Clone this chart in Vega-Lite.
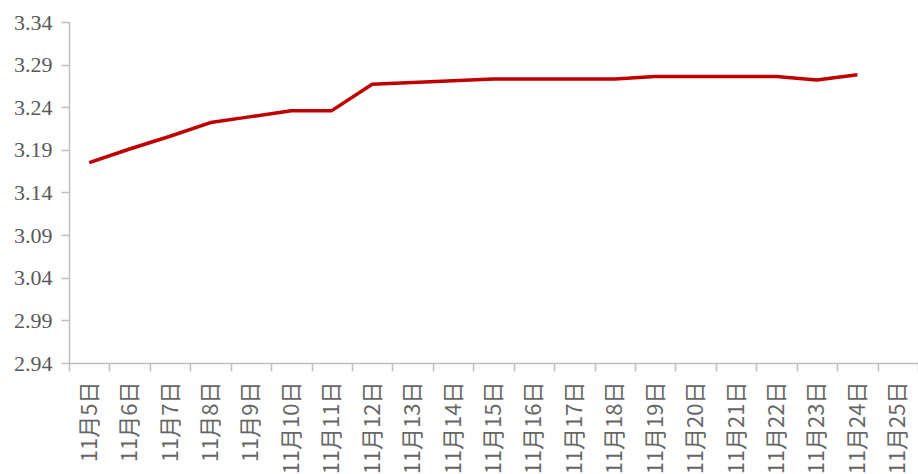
{
  "$schema": "https://vega.github.io/schema/vega-lite/v6.json",
  "autosize": "none",
  "width": 849,
  "height": 341,
  "padding": {"left": 69, "top": 22, "right": 0, "bottom": 111},
  "background": "white",
  "config": {"view": {"stroke": null}},
  "data": {"values": [
    {"date": "11月5日", "value": 3.175},
    {"date": "11月6日", "value": 3.191},
    {"date": "11月7日", "value": 3.206},
    {"date": "11月8日", "value": 3.222},
    {"date": "11月9日", "value": 3.229},
    {"date": "11月10日", "value": 3.236},
    {"date": "11月11日", "value": 3.236},
    {"date": "11月12日", "value": 3.267},
    {"date": "11月13日", "value": 3.269},
    {"date": "11月14日", "value": 3.271},
    {"date": "11月15日", "value": 3.273},
    {"date": "11月16日", "value": 3.273},
    {"date": "11月17日", "value": 3.273},
    {"date": "11月18日", "value": 3.273},
    {"date": "11月19日", "value": 3.276},
    {"date": "11月20日", "value": 3.276},
    {"date": "11月21日", "value": 3.276},
    {"date": "11月22日", "value": 3.276},
    {"date": "11月23日", "value": 3.272},
    {"date": "11月24日", "value": 3.278},
    {"date": "11月25日", "value": null}
  ]},
  "mark": {"type": "line", "color": "#C00000", "strokeWidth": 3.5, "strokeJoin": "round"},
  "encoding": {
    "x": {
      "field": "date", "type": "ordinal", "sort": null,
      "scale": {"paddingInner": 0, "paddingOuter": 0},
      "axis": {
        "title": null,
        "tickBand": "extent",
        "labelAngle": 270,
        "labelFont": "Noto Sans CJK SC",
        "labelFontSize": 22,
        "labelColor": "#666666",
        "labelPadding": 10,
        "tickSize": 8,
        "tickColor": "#bfbfbf",
        "domainColor": "#bfbfbf",
        "domainWidth": 1.5,
        "tickWidth": 1.5,
        "grid": false
      }
    },
    "y": {
      "field": "value", "type": "quantitative",
      "scale": {"domain": [2.94, 3.34], "zero": false, "nice": false},
      "axis": {
        "title": null,
        "values": [2.94, 2.99, 3.04, 3.09, 3.14, 3.19, 3.24, 3.29, 3.34],
        "format": ".2f",
        "labelFont": "Liberation Serif",
        "labelFontSize": 22,
        "labelColor": "#595959",
        "labelPadding": 9,
        "tickSize": 8,
        "tickColor": "#bfbfbf",
        "domainColor": "#bfbfbf",
        "domainWidth": 1.5,
        "tickWidth": 1.5,
        "grid": false
      }
    }
  }
}
